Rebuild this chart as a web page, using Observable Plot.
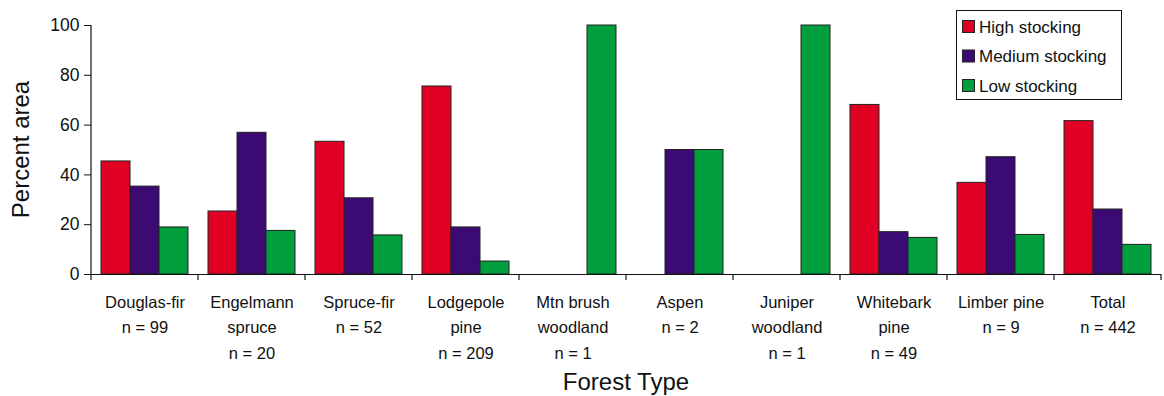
<!DOCTYPE html>
<html>
<head>
<meta charset="utf-8">
<script src="https://cdn.jsdelivr.net/npm/d3@7"></script>
<script src="https://cdn.jsdelivr.net/npm/@observablehq/plot@0.6"></script>
<style>
  html, body { margin: 0; padding: 0; background: #fff; }
  #chart { width: 1164px; height: 396px; }
  svg { font-family: "Liberation Sans", Arial, sans-serif; }
</style>
</head>
<body>
<div id="chart"></div>
<script>
const categories = ["Douglas-fir", "Engelmann spruce", "Spruce-fir", "Lodgepole pine", "Mtn brush woodland", "Aspen", "Juniper woodland", "Whitebark pine", "Limber pine", "Total"];
const tickLabels = ["Douglas-fir\nn = 99", "Engelmann\nspruce\nn = 20", "Spruce-fir\nn = 52", "Lodgepole\npine\nn = 209", "Mtn brush\nwoodland\nn = 1", "Aspen\nn = 2", "Juniper\nwoodland\nn = 1", "Whitebark\npine\nn = 49", "Limber pine\nn = 9", "Total\nn = 442"];
const series = ["High stocking", "Medium stocking", "Low stocking"];
const colors = ["#E00024", "#3C0A73", "#009E3C"];
const high   = [45.4, 25.3, 53.3, 75.5, null, null, null, 68.1, 36.8, 61.6];
const medium = [35.3, 56.9, 30.6, 18.9, null, 50.0, null, 17.0, 47.1, 26.1];
const low    = [18.9, 17.5, 15.7,  5.2, 100, 50.0, 100, 14.7, 15.9, 11.9];
const yTicks = [0, 20, 40, 60, 80, 100];
const xTitle = "Forest Type";
const yTitle = "Percent area";

const valuesBySeries = [high, medium, low];
const rows = categories.flatMap((cat, i) =>
  series.map((s, j) => ({cat, series: s, value: valuesBySeries[j][i]}))
).filter(d => d.value != null);

const FONT = '"Liberation Sans", Arial, sans-serif';

const plot = Plot.plot({
  width: 1164,
  height: 396,
  marginLeft: 87,
  marginRight: 0,
  marginTop: 25,
  marginBottom: 122,
  style: {fontFamily: FONT, color: "#111", background: "#fff"},
  fx: {domain: categories, padding: 0, axis: null, label: null},
  x: {domain: series, paddingInner: 0, paddingOuter: 0.295, axis: null},
  y: {domain: [0, 100], axis: null},
  color: {domain: series, range: colors},
  marks: [
    Plot.barY(rows, {fx: "cat", x: "series", y: "value", fill: "series", stroke: "#222", strokeWidth: 1}),
    Plot.ruleY([0], {stroke: "#111", strokeWidth: 1.2}),
    Plot.axisY({ticks: yTicks, tickSize: 7, tickPadding: 5, fontSize: 17.5, label: null, stroke: "#111"}),
    Plot.text(categories, {
      fx: d => d,
      text: (d, i) => tickLabels[i],
      frameAnchor: "bottom",
      lineAnchor: "top",
      dy: 15,
      lineHeight: 1.55,
      fontSize: 16.5,
      fill: "#111"
    })
  ]
});

document.getElementById("chart").appendChild(plot);

const svg = d3.select(plot);
const fx = plot.scale("fx");
const yScale = plot.scale("y");
const y0 = yScale.apply(0), y100 = yScale.apply(100);
const left = fx.apply(categories[0]);
const right = fx.apply(categories[categories.length - 1]) + fx.step;

// y axis line
svg.append("line")
  .attr("x1", left).attr("x2", left)
  .attr("y1", y100).attr("y2", y0)
  .attr("stroke", "#111").attr("stroke-width", 1.2);

// category boundary ticks
const bounds = categories.map(c => fx.apply(c)).concat([right]);
svg.append("g").selectAll("line").data(bounds).join("line")
  .attr("x1", d => d).attr("x2", d => d)
  .attr("y1", y0).attr("y2", y0 + 6)
  .attr("stroke", "#111").attr("stroke-width", 1.2);

// axis titles
svg.append("text")
  .attr("x", (left + right) / 2)
  .attr("y", 390)
  .attr("text-anchor", "middle")
  .attr("font-size", 24)
  .attr("font-family", FONT)
  .attr("fill", "#111")
  .text(xTitle);

svg.append("text")
  .attr("transform", `translate(29, ${(y0 + y100) / 2}) rotate(-90)`)
  .attr("text-anchor", "middle")
  .attr("font-size", 24)
  .attr("font-family", FONT)
  .attr("fill", "#111")
  .text(yTitle);

// legend
const color = plot.scale("color");
const lg = svg.append("g").attr("text-anchor", "start");
lg.append("rect")
  .attr("x", 956.5).attr("y", 10.5).attr("width", 165).attr("height", 89)
  .attr("fill", "#fff").attr("stroke", "#111").attr("stroke-width", 1);
series.forEach((s, i) => {
  const yy = 20 + i * 29.5;
  lg.append("rect")
    .attr("x", 962.5).attr("y", yy + 0.5).attr("width", 12).attr("height", 12)
    .attr("fill", color.apply(s)).attr("stroke", "#222").attr("stroke-width", 1);
  lg.append("text")
    .attr("x", 979).attr("y", yy + 12.5)
    .attr("text-anchor", "start")
    .attr("font-size", 17)
    .attr("font-family", FONT)
    .attr("fill", "#111")
    .text(s);
});
</script>
</body>
</html>
